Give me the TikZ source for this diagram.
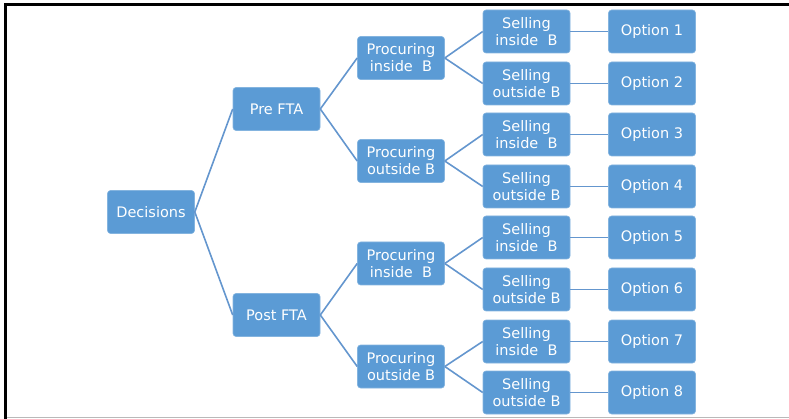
\documentclass[tikz,border=0pt]{standalone}
\usepackage{fontspec}
\setmainfont{DejaVu Sans}
\usepackage{tikz}
\definecolor{decblue}{RGB}{91,155,213}
\definecolor{declinkc}{RGB}{100,150,206}
\tikzset{
  decstage/.style={
    rounded corners=3pt,
    fill=decblue,
    draw=decblue!75!white,
    line width=0.6pt,
    text=white,
    align=center,
    inner sep=1pt,
    minimum width=87pt,
    minimum height=43pt,
    font=\fontsize{14.5}{17}\selectfont
  },
  declink/.style={draw=declinkc,line width=1.6pt},
  decframe/.style={line width=3pt,black}
}

\begin{document}
\begin{tikzpicture}[x=1pt,y=-1pt]
  \useasboundingbox (0,0) rectangle (789,419);
  \draw[decframe] (5.5,419) -- (5.5,4.5) -- (789,4.5);
  \draw[gray!55,line width=1pt] (7,417.5) -- (789,417.5);

  \node[decstage] (dec) at (151,212) {Decisions};
  \node[decstage] (pre) at (276.5,109) {Pre FTA};
  \node[decstage] (post) at (276.5,315) {Post FTA};

  \node[decstage] (prein) at (401,58) {Procuring\\inside\ \ B};
  \node[decstage] (preout) at (401,161) {Procuring\\outside B};
  \node[decstage] (postin) at (401,263.5) {Procuring\\inside\ \ B};
  \node[decstage] (postout) at (401,366.5) {Procuring\\outside B};

  \node[decstage] (sell1) at (526.5,31.5) {Selling\\inside\ \ B};
  \node[decstage] (sell2) at (526.5,83.5) {Selling\\outside B};
  \node[decstage] (sell3) at (526.5,134.5) {Selling\\inside\ \ B};
  \node[decstage] (sell4) at (526.5,186.5) {Selling\\outside B};
  \node[decstage] (sell5) at (526.5,237.5) {Selling\\inside\ \ B};
  \node[decstage] (sell6) at (526.5,289.5) {Selling\\outside B};
  \node[decstage] (sell7) at (526.5,341.5) {Selling\\inside\ \ B};
  \node[decstage] (sell8) at (526.5,392.5) {Selling\\outside B};

  \node[decstage] (opt1) at (652,31.5) {Option 1};
  \node[decstage] (opt2) at (652,83.5) {Option 2};
  \node[decstage] (opt3) at (652,134.5) {Option 3};
  \node[decstage] (opt4) at (652,186.5) {Option 4};
  \node[decstage] (opt5) at (652,237.5) {Option 5};
  \node[decstage] (opt6) at (652,289.5) {Option 6};
  \node[decstage] (opt7) at (652,341.5) {Option 7};
  \node[decstage] (opt8) at (652,392.5) {Option 8};

  \draw[declink] (dec.east) -- (pre.west);
  \draw[declink] (dec.east) -- (post.west);
  \draw[declink] (pre.east) -- (prein.west);
  \draw[declink] (pre.east) -- (preout.west);
  \draw[declink] (post.east) -- (postin.west);
  \draw[declink] (post.east) -- (postout.west);
  \draw[declink] (prein.east) -- (sell1.west);
  \draw[declink] (prein.east) -- (sell2.west);
  \draw[declink] (preout.east) -- (sell3.west);
  \draw[declink] (preout.east) -- (sell4.west);
  \draw[declink] (postin.east) -- (sell5.west);
  \draw[declink] (postin.east) -- (sell6.west);
  \draw[declink] (postout.east) -- (sell7.west);
  \draw[declink] (postout.east) -- (sell8.west);
  \draw[declink] (sell1) -- (opt1);
  \draw[declink] (sell2) -- (opt2);
  \draw[declink] (sell3) -- (opt3);
  \draw[declink] (sell4) -- (opt4);
  \draw[declink] (sell5) -- (opt5);
  \draw[declink] (sell6) -- (opt6);
  \draw[declink] (sell7) -- (opt7);
  \draw[declink] (sell8) -- (opt8);
\end{tikzpicture}
\end{document}
